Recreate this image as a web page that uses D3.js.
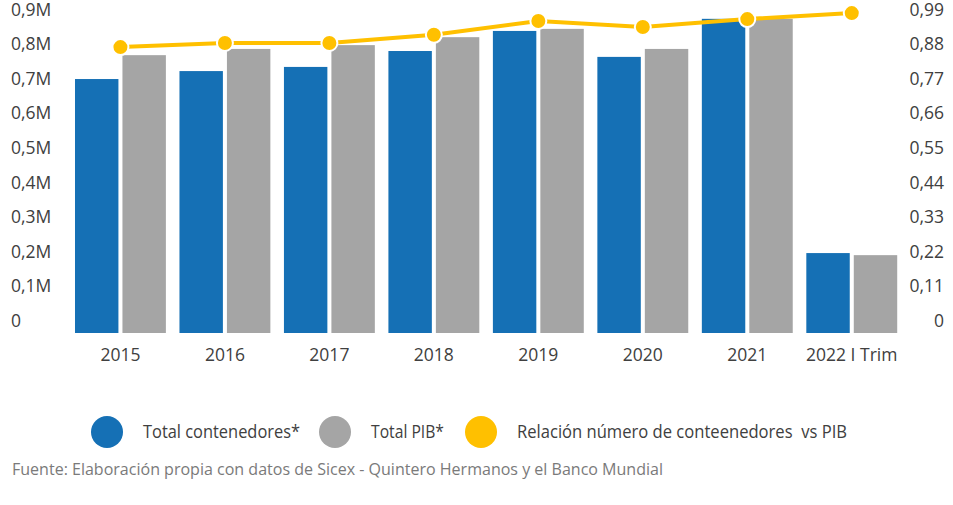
<!DOCTYPE html>
<html><head><meta charset="utf-8">
<script src="https://cdn.jsdelivr.net/npm/d3@7"></script>
<style>body{margin:0;background:#fff}svg{display:block}text{font-family:"Open Sans",sans-serif}</style>
</head><body><svg id="c" width="953" height="505"></svg>
<script>
const categories = ["2015","2016","2017","2018","2019","2020","2021","2022 I Trim"];
const contenedores = [0.734, 0.757, 0.769, 0.815, 0.873, 0.798, 0.908, 0.231];
const pib = [0.803, 0.821, 0.832, 0.855, 0.879, 0.821, 0.908, 0.225];
const relacion = [0.909, 0.922, 0.922, 0.948, 0.992, 0.973, 0.998, 1.017];
const leftTicks = [0,0.1,0.2,0.3,0.4,0.5,0.6,0.7,0.8,0.9];
const leftTickLabels = ["0","0,1M","0,2M","0,3M","0,4M","0,5M","0,6M","0,7M","0,8M","0,9M"];
const rightTicks = [0,0.11,0.22,0.33,0.44,0.55,0.66,0.77,0.88,0.99];
const rightTickLabels = ["0","0,11","0,22","0,33","0,44","0,55","0,66","0,77","0,88","0,99"];
const seriesNames = ["Total contenedores*","Total PIB*","Relación número de conteenedores  vs PIB"];
const source = "Fuente: Elaboración propia con datos de Sicex - Quintero Hermanos y el Banco Mundial";

const BLUE="#1570b5", GRAY="#a5a5a5", YEL="#ffc000", TXT="#404040";
const svg = d3.select("#c");
const y0 = 333, yTop = 21.6;
const x = d3.scaleBand().domain(categories).range([68.2, 904]).paddingInner(0.13).paddingOuter(0.065);
const x1 = d3.scaleBand().domain([0,1]).range([0, x.bandwidth()]).paddingInner(0.085);
const yL = d3.scaleLinear().domain([0,0.9]).range([y0,yTop]);
const yR = d3.scaleLinear().domain([0,0.99]).range([y0,yTop]);

// left axis labels
const gl = svg.append("g");
gl.selectAll("text").data(leftTicks).join("text")
  .attr("x",11).attr("y",d=>yL(d)-12.3).attr("dy","0.36em")
  .attr("fill",TXT).attr("font-size",17.5).text((d,i)=>leftTickLabels[i]);
const gr = svg.append("g");
gr.selectAll("text").data(rightTicks).join("text")
  .attr("x",944).attr("y",d=>yR(d)-12.3).attr("dy","0.36em").attr("text-anchor","end")
  .attr("fill",TXT).attr("font-size",17.5).text((d,i)=>rightTickLabels[i]);

// bars
const groups = svg.append("g").selectAll("g").data(categories).join("g")
  .attr("transform",d=>`translate(${x(d)},0)`);
groups.append("rect").attr("x",x1(0)).attr("width",x1.bandwidth())
  .attr("y",(d,i)=>yL(contenedores[i])).attr("height",(d,i)=>y0-yL(contenedores[i])).attr("fill",BLUE);
groups.append("rect").attr("x",x1(1)).attr("width",x1.bandwidth())
  .attr("y",(d,i)=>yL(pib[i])).attr("height",(d,i)=>y0-yL(pib[i])).attr("fill",GRAY);

// x labels
svg.append("g").selectAll("text").data(categories).join("text")
  .attr("x",d=>x(d)+x.bandwidth()/2).attr("y",355).attr("dy","0.36em").attr("text-anchor","middle")
  .attr("fill",TXT).attr("font-size",17.5).text(d=>d);

// line
const cx = d=>x(d)+x.bandwidth()/2;
const line = d3.line().x((d,i)=>cx(categories[i])).y(d=>yR(d));
svg.append("path").datum(relacion).attr("d",line).attr("fill","none").attr("stroke",YEL).attr("stroke-width",4);
svg.append("g").selectAll("circle").data(relacion).join("circle")
  .attr("cx",(d,i)=>cx(categories[i])).attr("cy",d=>yR(d)).attr("r",8)
  .attr("fill",YEL).attr("stroke","#fff").attr("stroke-width",2);

// legend
const leg = [{c:BLUE,cx:107,tx:143,w:157},{c:GRAY,cx:335,tx:371,w:73},{c:YEL,cx:481,tx:517,w:330}];
const lg = svg.append("g");
leg.forEach((l,i)=>{
  lg.append("circle").attr("cx",l.cx).attr("cy",432).attr("r",16).attr("fill",l.c);
  lg.append("text").attr("x",l.tx).attr("y",437.5).attr("fill",TXT)
    .attr("font-size",18.5).attr("xml:space","preserve").style("white-space","pre")
    .attr("textLength",l.w).attr("lengthAdjust","spacingAndGlyphs").text(seriesNames[i]);
});
svg.append("text").attr("x",12).attr("y",475).attr("fill","#7a7a7a")
  .attr("font-size",16.5).attr("textLength",651).attr("lengthAdjust","spacingAndGlyphs").text(source);
</script></body></html>
